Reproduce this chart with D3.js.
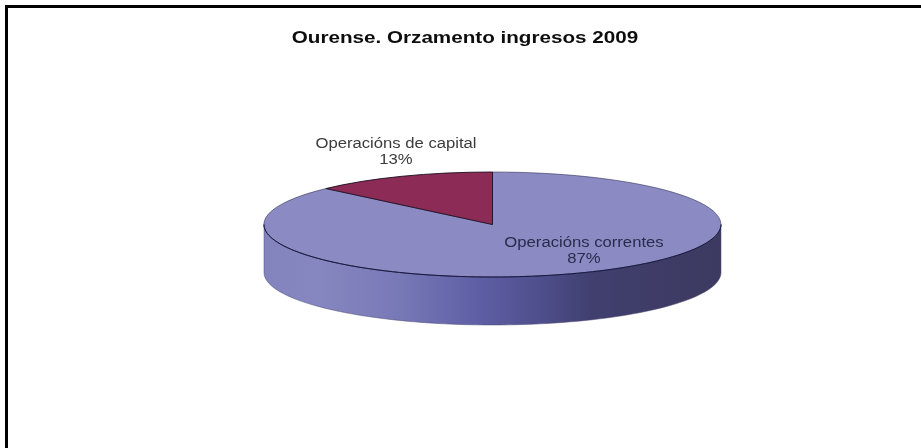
<!DOCTYPE html>
<html>
<head>
<meta charset="utf-8"/>
<title>Ourense. Orzamento ingresos 2009</title>
<script src="https://d3js.org/d3.v7.min.js"></script>
<style>
    html, body { margin: 0; padding: 0; background: #fff; }
    svg { display: block; font-family: "Liberation Sans", Arial, sans-serif; }
</style>
</head>
<body>
<svg id="chart" width="921" height="448"></svg>
<script>
    var chartTitle = "Ourense. Orzamento ingresos 2009"
    var categories = ["Operacións de capital", "Operacións correntes"]
    var values = [13, 87]
    var sliceColors = ["#8b2b56", "#8b8ac3"]

    var width = 921, height = 448
    var cx = 492.5, cy = 224.5, rx = 228.5, ry = 52.5, depth = 48

    var svg = d3.select("#chart")

    // frame: only the top and left lines are visible in the original
    svg.append("rect").attr("x", 5).attr("y", 5).attr("width", width - 5).attr("height", 3).attr("fill", "#000")
    svg.append("rect").attr("x", 5).attr("y", 5).attr("width", 3).attr("height", height - 5).attr("fill", "#000")

    var defs = svg.append("defs")
    var wallGrad = defs.append("linearGradient").attr("id", "wall")
    var wallStops = [[0, "#8384bd"], [0.12, "#8687c0"], [0.3, "#7778b6"], [0.47, "#5e5ea5"], [0.6, "#4f4f8d"], [0.72, "#403f6e"], [1, "#3c3a60"]]
    wallStops.forEach(function (s) {
        wallGrad.append("stop").attr("offset", s[0]).attr("stop-color", s[1])
    })
    defs.append("filter").attr("id", "soft")
        .append("feGaussianBlur").attr("stdDeviation", 0.35)

    // the front half of the rim, left to right
    var rimAngles = d3.range(180, -1, -2).map(function (d) { return d * Math.PI / 180 })
    var rimLine = d3.line()
        .x(function (a) { return cx - rx * Math.cos(a) })
        .y(function (a) { return cy + ry * Math.sin(a) })
    var rimBottom = d3.line()
        .x(function (a) { return cx - rx * Math.cos(a) })
        .y(function (a) { return cy + depth + ry * Math.sin(a) })

    var wallPath = rimLine(rimAngles) + rimBottom(rimAngles.slice().reverse()).replace("M", "L") + "Z"
    svg.append("path")
        .attr("d", wallPath)
        .attr("fill", "url(#wall)")
        .attr("stroke", "#4a4970")
        .attr("stroke-width", 0.5)

    // top face: unit pie squashed to an ellipse
    var pie = d3.pie().sort(null).startAngle(-2 * Math.PI * values[0] / 100).endAngle(2 * Math.PI - 2 * Math.PI * values[0] / 100)
    var arc = d3.arc().innerRadius(0).outerRadius(1)

    var slices = svg.append("g")
        .attr("transform", "translate(" + cx + "," + cy + ") scale(" + rx + "," + ry + ")")
        .selectAll("path")
        .data(pie(values))
        .enter()
        .append("path")
        .attr("d", arc)
        .attr("fill", function (d, i) { return sliceColors[i] })
        .attr("stroke", function (d, i) { return i == 0 ? "#1c1020" : "#35345a" })
        .attr("stroke-width", function (d, i) { return i == 0 ? 0.9 : 0.6 })
        .attr("vector-effect", "non-scaling-stroke")
    slices.filter(function (d, i) { return i == 0 }).raise()

    // darker front edge of the top face
    svg.append("path")
        .attr("d", rimLine(rimAngles))
        .attr("fill", "none")
        .attr("stroke", "#17173f")
        .attr("stroke-width", 1)

    // the source is horizontally stretched, so text is widened to fit
    function stretched(x, y, str, size, weight, color, stretch) {
        var t = svg.append("text")
            .attr("x", x).attr("y", y)
            .attr("text-anchor", "middle")
            .attr("font-size", size)
            .attr("font-weight", weight)
            .attr("fill", color)
            .attr("filter", "url(#soft)")
            .text(str)
        t.attr("textLength", t.node().getComputedTextLength() * stretch)
            .attr("lengthAdjust", "spacingAndGlyphs")
        return t
    }

    stretched(465, 43, chartTitle, 16, "bold", "#111", 1.29)

    var labelPos = [[396, 148, "#3c3c3c"], [584, 247, "#2b2b4c"]]
    categories.forEach(function (name, i) {
        stretched(labelPos[i][0], labelPos[i][1], name, 14, "normal", labelPos[i][2], 1.19)
        stretched(labelPos[i][0], labelPos[i][1] + 15.5, values[i] + "%", 14, "normal", labelPos[i][2], 1.19)
    })
</script>
</body>
</html>
